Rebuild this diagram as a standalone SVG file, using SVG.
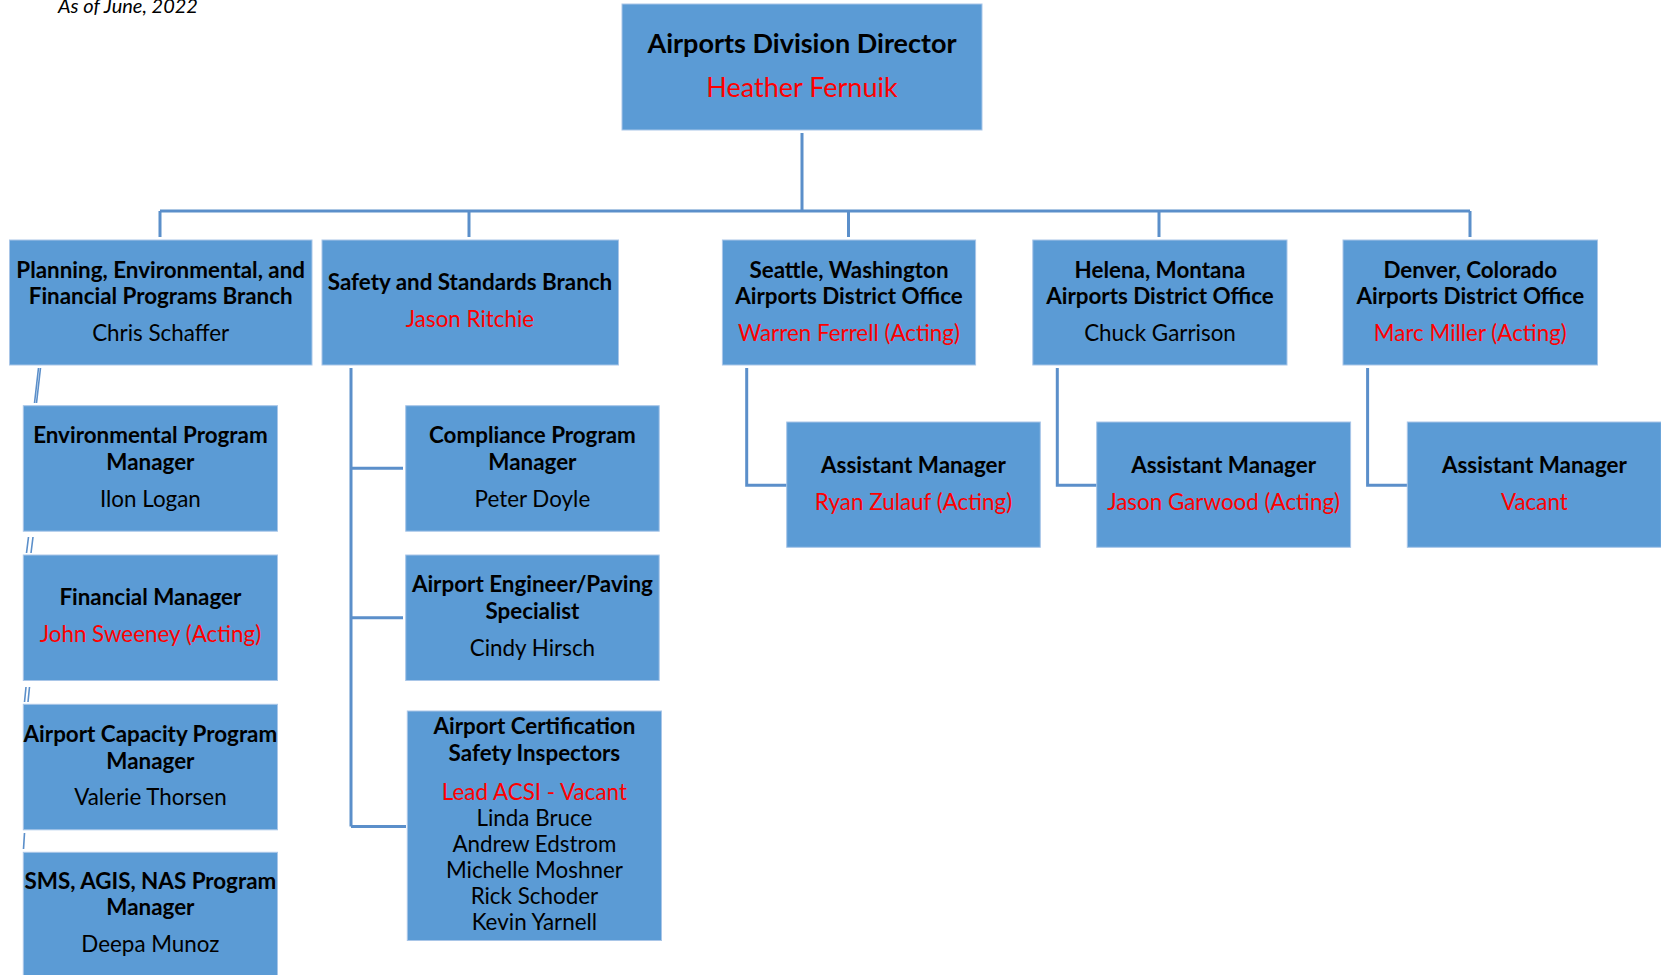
<svg xmlns="http://www.w3.org/2000/svg" width="1661" height="975" viewBox="0 0 1661 975">
<style>
.box{fill:#5B9BD5;stroke:#A9C6E8;stroke-width:1}
.t{font-family:Lato,"Open Sans","Liberation Sans",sans-serif;font-weight:bold;font-size:22.4px;fill:#000;text-anchor:middle}
.n{font-family:Lato,"Open Sans","Liberation Sans",sans-serif;font-size:22.4px;fill:#000;text-anchor:middle}
.r{fill:#FF0000}
.big{font-size:27px}
.bign{font-size:27px}
.c{fill:none;stroke:#5B8FCA;stroke-width:3}
.s{fill:none;stroke:#5B8FCA;stroke-width:1.6}
</style>
<rect width="1661" height="975" fill="#fff"/>
<text x="58" y="13" font-family="Lato,'Open Sans','Liberation Sans',sans-serif" font-style="italic" font-size="20" fill="#000">As of June, 2022</text>

<g id="connectors">
<path class="c" d="M802 133V211M160 211H1470M160 211V237M469 211V237M848.5 211V237M1159 211V237M1470 211V237"/>
<path class="c" d="M351 368V826.5M351 468.3H403M351 617.7H403M351 826.5H406"/>
<path class="c" d="M746.7 368V485.3H787M1057.3 368V485.3H1097M1367.6 368V485.3H1408"/>
<path class="s" d="M38.5 368L34.5 403M40.5 368L36.5 403"/>
<path class="s" d="M28.5 537L26.5 553M33 537L31 553"/>
<path class="s" d="M26 687L24.5 702M29.5 687L28 702"/>
<path class="s" d="M24.5 833L23.5 849"/>
</g>

<g id="director">
<rect class="box" x="622" y="4" width="360" height="126"/>
<text class="t big" x="802" y="53">Airports Division Director</text>
<text class="n r bign" x="802" y="97">Heather Fernuik</text>
</g>

<g id="planning">
<rect class="box" x="9.5" y="240" width="302.5" height="125"/>
<text class="t" x="160.7" y="277.5">Planning, Environmental, and</text>
<text class="t" x="160.7" y="304">Financial Programs Branch</text>
<text class="n" x="160.7" y="340.5">Chris Schaffer</text>
</g>

<g id="safety">
<rect class="box" x="322" y="240" width="296.5" height="125"/>
<text class="t" x="470" y="290">Safety and Standards Branch</text>
<text class="n r" x="470" y="327">Jason Ritchie</text>
</g>

<g id="seattle">
<rect class="box" x="722.4" y="240" width="253.2" height="125"/>
<text class="t" x="849" y="277.5">Seattle, Washington</text>
<text class="t" x="849" y="304">Airports District Office</text>
<text class="n r" x="849" y="340.5">Warren Ferrell (Acting)</text>
</g>

<g id="helena">
<rect class="box" x="1032.8" y="240" width="254.2" height="125"/>
<text class="t" x="1160" y="277.5">Helena, Montana</text>
<text class="t" x="1160" y="304">Airports District Office</text>
<text class="n" x="1160" y="340.5">Chuck Garrison</text>
</g>

<g id="denver">
<rect class="box" x="1343" y="240" width="254.5" height="125"/>
<text class="t" x="1470.3" y="277.5">Denver, Colorado</text>
<text class="t" x="1470.3" y="304">Airports District Office</text>
<text class="n r" x="1470.3" y="340.5">Marc Miller (Acting)</text>
</g>

<g id="environmental">
<rect class="box" x="23.3" y="405.7" width="254.2" height="125.5"/>
<text class="t" x="150.4" y="443">Environmental Program</text>
<text class="t" x="150.4" y="469.5">Manager</text>
<text class="n" x="150.4" y="506.5">Ilon Logan</text>
</g>

<g id="financial">
<rect class="box" x="23.3" y="555" width="254.2" height="125.5"/>
<text class="t" x="150.4" y="605">Financial Manager</text>
<text class="n r" x="150.4" y="641.5">John Sweeney (Acting)</text>
</g>

<g id="capacity">
<rect class="box" x="23.3" y="704.3" width="254.2" height="125.5"/>
<text class="t" x="150.4" y="742">Airport Capacity Program</text>
<text class="t" x="150.4" y="768.5">Manager</text>
<text class="n" x="150.4" y="805">Valerie Thorsen</text>
</g>

<g id="sms">
<rect class="box" x="23.3" y="852.3" width="254.2" height="130"/>
<text class="t" x="150.4" y="888.5">SMS, AGIS, NAS Program</text>
<text class="t" x="150.4" y="915">Manager</text>
<text class="n" x="150.4" y="952">Deepa Munoz</text>
</g>

<g id="compliance">
<rect class="box" x="405.7" y="405.7" width="253.5" height="125.5"/>
<text class="t" x="532.4" y="443">Compliance Program</text>
<text class="t" x="532.4" y="469.5">Manager</text>
<text class="n" x="532.4" y="506.5">Peter Doyle</text>
</g>

<g id="engineer">
<rect class="box" x="405.7" y="555" width="253.5" height="125.5"/>
<text class="t" x="532.4" y="592">Airport Engineer/Paving</text>
<text class="t" x="532.4" y="618.5">Specialist</text>
<text class="n" x="532.4" y="656">Cindy Hirsch</text>
</g>

<g id="certification">
<rect class="box" x="407.3" y="711" width="254.2" height="229.5"/>
<text class="t" x="534.4" y="733.5">Airport Certification</text>
<text class="t" x="534.4" y="761">Safety Inspectors</text>
<text class="n r" x="534.4" y="799.5">Lead ACSI - Vacant</text>
<text class="n" x="534.4" y="826">Linda Bruce</text>
<text class="n" x="534.4" y="852">Andrew Edstrom</text>
<text class="n" x="534.4" y="878">Michelle Moshner</text>
<text class="n" x="534.4" y="904">Rick Schoder</text>
<text class="n" x="534.4" y="930">Kevin Yarnell</text>
</g>

<g id="seattle-assistant">
<rect class="box" x="786.7" y="422" width="253.6" height="125.3"/>
<text class="t" x="913.5" y="473.3">Assistant Manager</text>
<text class="n r" x="913.5" y="510">Ryan Zulauf (Acting)</text>
</g>

<g id="helena-assistant">
<rect class="box" x="1096.7" y="422" width="253.9" height="125.3"/>
<text class="t" x="1223.6" y="473.3">Assistant Manager</text>
<text class="n r" x="1223.6" y="510">Jason Garwood (Acting)</text>
</g>

<g id="denver-assistant">
<rect class="box" x="1407.3" y="422" width="254" height="125.3"/>
<text class="t" x="1534.4" y="473.3">Assistant Manager</text>
<text class="n r" x="1534.4" y="510">Vacant</text>
</g>
</svg>
